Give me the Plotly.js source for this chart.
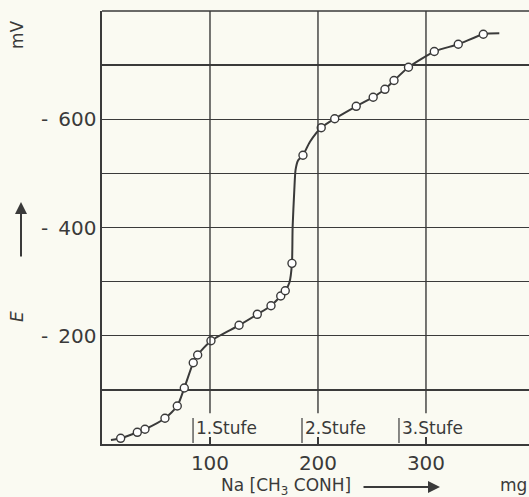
<!DOCTYPE html>
<html>
<head>
<meta charset="utf-8">
<script src="https://cdn.plot.ly/plotly-3.0.1.min.js"></script>
<style>
html,body{margin:0;padding:0;background:#fafaf2;overflow:hidden;}
#chart{width:529px;height:497px;}
</style>
</head>
<body>
<div id="chart"></div>
<script>
// Titration data: Na[CH3CONH] added (mg) vs potential E (mV)
const mgAdded = [17.3, 32.7, 39.8, 58.3, 69.7, 76.2, 84.5, 88.6, 100.9, 126.9, 143.8, 156.5, 165.5, 169.7, 175.9,
                 186.1, 203.0, 215.5, 235.4, 251.1, 262.0, 270.4, 283.8, 307.7, 329.9, 353.1];
const potential = [-10.5, -21.6, -27.2, -47.5, -70.2, -103.5, -150.2, -164.4, -190.8, -219.3, -239.6, -255.5, -273.4, -283.2, -333.8,
                   -533.4, -584.3, -601.0, -623.9, -640.7, -655.3, -671.5, -696.1, -725.1, -738.6, -757.1];

// Readings of the drawn smooth curve
const curveX = [8.3, 17.3, 32.7, 39.8, 58.3, 69.7, 76.2, 84.5, 88.6, 100.9, 126.9, 143.8, 156.5, 165.5, 169.7, 173.5, 175.9,
                176.5, 178.1, 179.2, 181.5, 186.1, 192.6, 203.0, 215.5, 235.4, 251.1, 262.0, 270.4, 283.8, 307.7, 329.9, 353.1, 367.9];
const curveE = [-7.4, -10.5, -21.6, -27.2, -47.5, -70.2, -103.5, -150.2, -164.4, -190.8, -219.3, -239.6, -255.5, -273.4, -283.2, -298, -333.8,
                -400, -470, -506, -524, -533.4, -558.5, -584.3, -601.0, -623.9, -640.7, -655.3, -671.5, -696.1, -725.1, -738.6, -757.1, -758.7];

const xTicks = [100, 200, 300];
const xTickText = ['100', '200', '300'];
const yTicks = [-100, -200, -300, -400, -500, -600, -700];
const yTickText = ['', '-\u2002200', '', '-\u2002400', '', '-\u2002600', ''];

const stufeX = [84.3, 185.2, 275.0];
const stufeText = ['1.Stufe', '2.Stufe', '3.Stufe'];

const ink = '#3a3a3a';
const bg = '#fafaf2';
const font = 'DejaVu Sans, sans-serif';

const traces = [
  {x: curveX, y: curveE, mode: 'lines', type: 'scatter',
   line: {color: ink, width: 2, shape: 'spline', smoothing: 0.6}, hoverinfo: 'skip'},
  {x: mgAdded, y: potential, mode: 'markers', type: 'scatter',
   marker: {symbol: 'circle', size: 8, color: '#ffffff', line: {color: ink, width: 1.4}}}
];

const shapes = [];
// vertical grid lines (interrupted above the Stufe labels)
xTicks.forEach(v => shapes.push({type: 'line', xref: 'x', yref: 'y', x0: v, x1: v, y0: -57, y1: -800,
  line: {color: ink, width: 1.4}}));
// top border
shapes.push({type: 'line', xref: 'paper', yref: 'paper', x0: 0, x1: 1, y0: 1, y1: 1, line: {color: ink, width: 1.6}});
// Stufe markers
stufeX.forEach(v => shapes.push({type: 'line', xref: 'x', yref: 'y', x0: v, x1: v, y0: -48, y1: -2,
  line: {color: ink, width: 1.2}}));

const annotations = [];
stufeX.forEach((v, i) => annotations.push({x: v, y: -30, xref: 'x', yref: 'y', text: stufeText[i],
  showarrow: false, xanchor: 'left', yanchor: 'middle', xshift: 1, font: {family: font, size: 17, color: ink}}));

const px = p => (p - 102) / 427;
const py = p => (444 - p) / 433;
const lab = (x, y, text, extra) => Object.assign({x: px(x), y: py(y), xref: 'paper', yref: 'paper', text: text,
  showarrow: false, xanchor: 'center', yanchor: 'middle', font: {family: font, size: 17, color: ink}}, extra || {});

annotations.push(lab(17, 35, 'mV', {textangle: -90}));
annotations.push(lab(17, 317, '<i>E</i>', {textangle: -90}));
annotations.push({x: px(21), y: py(202), xref: 'paper', yref: 'paper', text: '', showarrow: true,
  ax: px(21), ay: py(258), axref: 'paper', ayref: 'paper', arrowhead: 2, arrowsize: 1.2, arrowwidth: 2, arrowcolor: ink});
annotations.push(lab(286, 486, 'Na [CH<sub>3</sub> CONH]'));
annotations.push({x: px(440), y: py(487), xref: 'paper', yref: 'paper', text: '', showarrow: true,
  ax: px(362), ay: py(487), axref: 'paper', ayref: 'paper', arrowhead: 2, arrowsize: 1.2, arrowwidth: 2, arrowcolor: ink});
annotations.push(lab(513, 485, 'mg'));

const layout = {
  width: 529, height: 497,
  margin: {l: 102, r: 0, t: 11, b: 53, pad: 0},
  paper_bgcolor: bg, plot_bgcolor: bg,
  showlegend: false,
  font: {family: font, color: ink},
  xaxis: {range: [0, 395.4], tickvals: xTicks, ticktext: xTickText, showgrid: false, zeroline: false,
    showline: true, linecolor: ink, linewidth: 1.6, ticks: 'inside', ticklen: 7, tickwidth: 1.3, tickcolor: ink,
    tickfont: {family: font, size: 20, color: ink}},
  yaxis: {range: [0, -800], tickvals: yTicks, ticktext: yTickText, showgrid: true, gridcolor: ink, gridwidth: 1.4,
    zeroline: false, showline: true, linecolor: ink, linewidth: 1.6, ticks: '',
    tickfont: {family: font, size: 20, color: ink}},
  shapes: shapes,
  annotations: annotations
};

Plotly.newPlot('chart', traces, layout, {displayModeBar: false, staticPlot: true});
</script>
</body>
</html>
